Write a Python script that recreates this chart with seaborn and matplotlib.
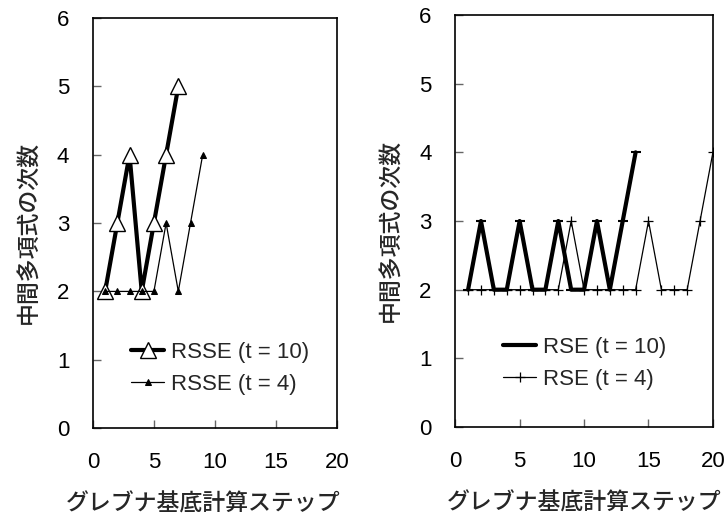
import matplotlib
matplotlib.use('Agg')
import matplotlib.pyplot as plt
import seaborn as sns

# 左: RSSE
rsse_x10 = [1, 2, 3, 4, 5, 6, 7]
rsse_y10 = [2, 3, 4, 2, 3, 4, 5]
rsse_x4 = [1, 2, 3, 4, 5, 6, 7, 8, 9]
rsse_y4 = [2, 2, 2, 2, 2, 3, 2, 3, 4]

# 右: RSE
rse_x10 = list(range(1, 15))
rse_y10 = [2, 3, 2, 2, 3, 2, 2, 3, 2, 2, 3, 2, 3, 4]
rse_x4 = list(range(1, 21))
rse_y4 = [2, 2, 2, 2, 2, 2, 2, 2, 3, 2, 2, 2, 2, 2, 3, 2, 2, 2, 3, 4]

x_ticks = [0, 5, 10, 15, 20]
y_ticks = [0, 1, 2, 3, 4, 5, 6]
x_label = 'グレブナ基底計算ステップ'
y_label = '中間多項式の次数'

sns.set_theme(style='ticks')
plt.rcParams['font.family'] = ['Liberation Sans', 'Noto Sans CJK JP']

fig = plt.figure(figsize=(7.26, 5.17), dpi=100)
ax1 = fig.add_axes([0.128, 0.172, 0.336, 0.793])
ax2 = fig.add_axes([0.627, 0.174, 0.355, 0.797])

sns.lineplot(x=rsse_x10, y=rsse_y10, ax=ax1, color='black', linewidth=3,
             marker='^', markersize=11, markerfacecolor='white',
             markeredgecolor='black', markeredgewidth=1,
             label='RSSE (t = 10)')
sns.lineplot(x=rsse_x4, y=rsse_y4, ax=ax1, color='black', linewidth=0.9,
             marker='^', markersize=5, markerfacecolor='black',
             markeredgecolor='black', label='RSSE (t = 4)')

sns.lineplot(x=rse_x10, y=rse_y10, ax=ax2, color='black', linewidth=3,
             marker='_', markersize=7, markeredgewidth=1.5,
             markeredgecolor='black', label='RSE (t = 10)')
sns.lineplot(x=rse_x4, y=rse_y4, ax=ax2, color='black', linewidth=0.9,
             marker='+', markersize=7, markeredgewidth=0.9,
             markeredgecolor='black', label='RSE (t = 4)')

legend_pos = {ax1: (0.156, 0.146), ax2: (0.186, 0.155)}
jp = ['Noto Sans CJK JP', 'DejaVu Sans']

for ax in (ax1, ax2):
    ax.set_xlim(0, 20)
    ax.set_ylim(0, 6)
    ax.set_xticks(x_ticks)
    ax.set_yticks(y_ticks)
    ax.tick_params(direction='in', length=6, width=1, color='#666666',
                   labelsize=16, pad=17, labelcolor='black')
    for s in ax.spines.values():
        s.set_color('black')
        s.set_linewidth(1.2)
    ax.set_xlabel(x_label, fontsize=16.5, labelpad=14, family=jp,
                  fontweight='medium')
    ax.set_ylabel(y_label, fontsize=16.5, labelpad=12, family=jp,
                  fontweight='medium')
    ax.yaxis.label.set_y(0.478)
    ax.legend(loc='center left', bbox_to_anchor=legend_pos[ax],
              frameon=False, fontsize=16, handlelength=1.5,
              handletextpad=0.3, labelspacing=0.5, borderpad=0,
              borderaxespad=0)

ax1.xaxis.label.set_x(0.45)

fig.savefig('out.png', dpi=100)
